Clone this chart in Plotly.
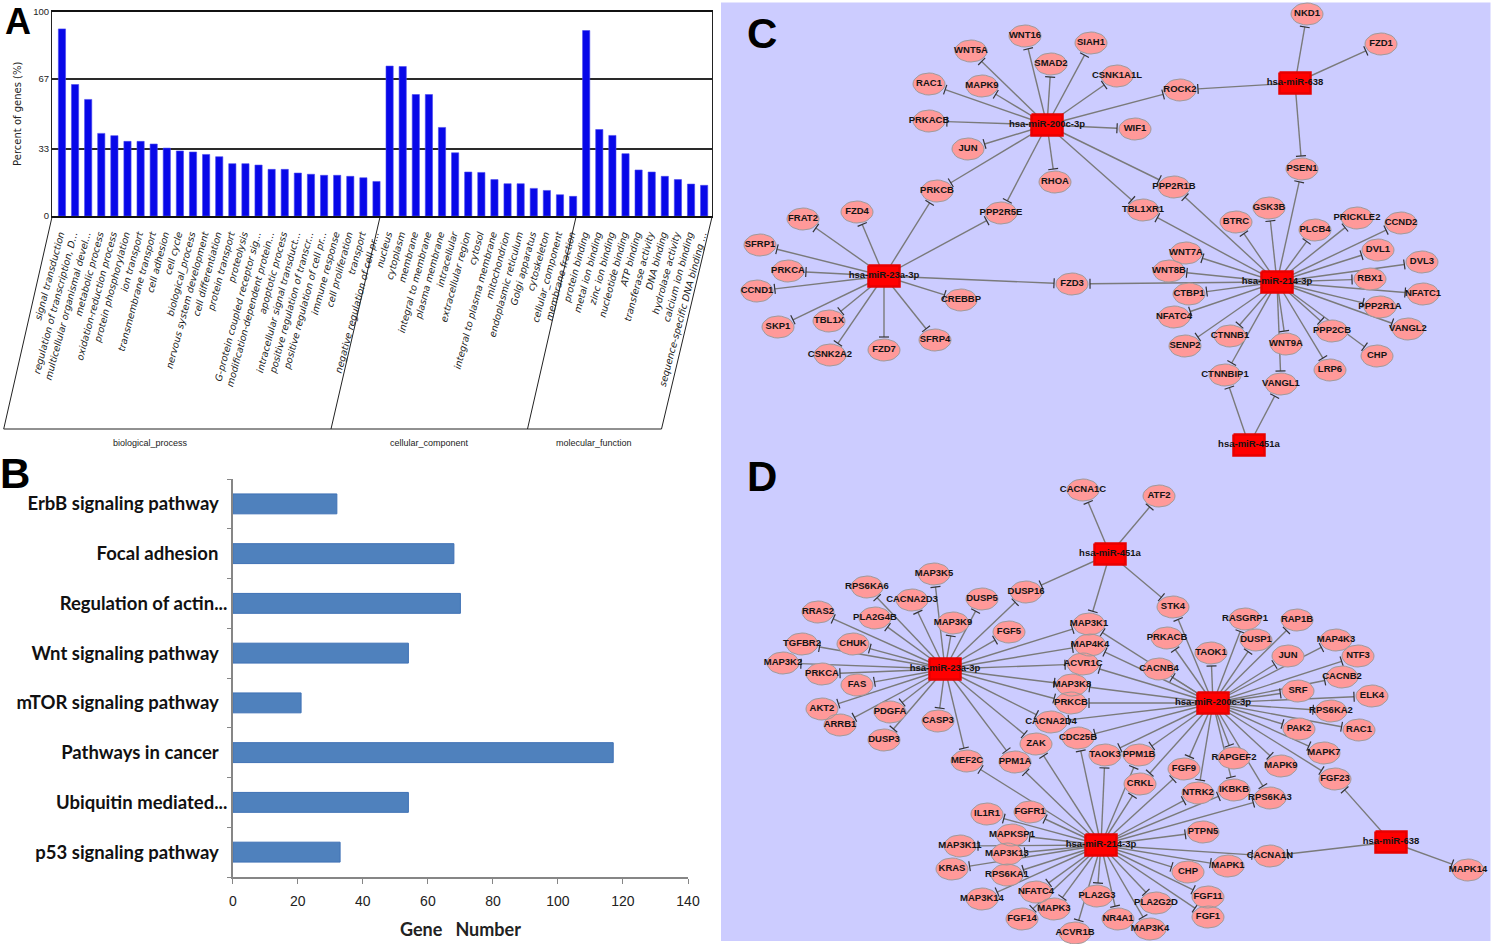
import math
import plotly.graph_objects as go

# ---------- Panel A ----------
GO_TERMS = ["signal transduction", "regulation of transcription, D...", "multicellular organismal devel...",
    "metabolic process", "oxidation-reduction process", "protein phosphorylation", "ion transport",
    "transmembrane transport", "cell adhesion", "cell cycle", "biological_process",
    "nervous system development", "cell differentiation", "protein transport", "proteolysis",
    "G-protein coupled receptor sig...", "modification-dependent protein...", "apoptotic process",
    "intracellular signal transduct...", "positive regulation of transcr...",
    "positive regulation of cell pr...", "immune response", "cell proliferation", "transport",
    "negative regulation of cell pr...",
    "nucleus", "cytoplasm", "membrane", "integral to membrane", "plasma membrane", "intracellular",
    "extracellular region", "cytosol", "integral to plasma membrane", "mitochondrion",
    "endoplasmic reticulum", "Golgi apparatus", "cytoskeleton", "cellular_component", "membrane fraction",
    "protein binding", "metal ion binding", "zinc ion binding", "nucleotide binding", "ATP binding",
    "transferase activity", "DNA binding", "hydrolase activity", "calcium ion binding",
    "sequence-specific DNA binding ..."]
GO_PERCENT = [91.5, 64.3, 57, 40.4, 39.3, 36.5, 36.5, 35.2, 33.2, 31.8, 31.3, 30.1, 29, 25.6, 25.6, 24.9,
    22.8, 22.8, 21, 20.4, 19.9, 19.9, 19.4, 18.7, 16.9,
    73.3, 73.1, 59.4, 59.4, 43.3, 30.9, 21.5, 21.3, 17.8, 15.8, 15.8, 13.5, 12.5, 10.4, 9.6,
    90.7, 42.3, 39.4, 30.5, 22.5, 21.5, 19.4, 17.8, 15.6, 15]
GO_TICKS = [0, 33, 67, 100]
GO_GROUPS = ["biological_process", "cellular_component", "molecular_function"]

# ---------- Panel B ----------
PATHWAYS = ["ErbB signaling pathway  ", "Focal adhesion  ", "Regulation of actin...", "Wnt signaling pathway  ",
    "mTOR signaling pathway  ", "Pathways in cancer  ", "Ubiquitin mediated...", "p53 signaling pathway  "]
GENE_NUMBER = [32, 68, 70, 54, 21, 117, 54, 33]
GENE_TICKS = [0, 20, 40, 60, 80, 100, 120, 140]

# ---------- Panel C network ----------
C_GENES = ["WNT16", "SIAH1", "SMAD2", "WNT5A", "RAC1", "MAPK9", "PRKACB", "JUN", "PRKCB", "RHOA", "PPP2R5E",
    "FRAT2", "FZD4", "CSNK1A1L", "ROCK2", "WIF1", "NKD1", "FZD1", "PSEN1", "PPP2R1B", "TBL1XR1", "GSK3B",
    "BTRC", "PLCB4", "PRICKLE2", "CCND2", "DVL1", "DVL3", "WNT7A", "WNT8B", "RBX1", "CTBP1", "NFATC1",
    "PPP2R1A", "NFATC4", "VANGL2", "PPP2CB", "CTNNB1", "WNT9A", "SENP2", "CHP", "LRP6", "CTNNBIP1", "VANGL1",
    "SFRP1", "PRKCA", "CCND1", "SKP1", "TBL1X", "CSNK2A2", "FZD7", "SFRP4", "CREBBP", "FZD3"]
C_GENE_X = [1025, 1091, 1051, 971, 929, 982, 929, 968, 937, 1055, 1001,
    803, 857, 1117, 1180, 1135, 1307, 1381, 1302, 1174, 1143, 1269,
    1236, 1315, 1357, 1401, 1378, 1422, 1186, 1169, 1370, 1189, 1423,
    1380, 1174, 1408, 1332, 1230, 1286, 1185, 1377, 1330, 1225, 1281,
    760, 788, 757, 778, 829, 830, 884, 935, 961, 1072]
C_GENE_Y = [36, 43, 64, 51, 84, 86, 121, 149, 191, 182, 213,
    219, 212, 76, 90, 129, 14, 44, 169, 187, 210, 208,
    222, 230, 218, 223, 250, 262, 253, 271, 279, 294, 294,
    307, 317, 329, 331, 336, 344, 346, 356, 370, 375, 384,
    245, 271, 291, 327, 321, 355, 350, 340, 300, 284]
C_MIRNAS = ["hsa-miR-200c-3p", "hsa-miR-638", "hsa-miR-23a-3p", "hsa-miR-214-3p", "hsa-miR-451a"]
C_MIRNA_X = [1047, 1295, 884, 1277, 1249]
C_MIRNA_Y = [125, 83, 276, 282, 445]
C_TARGETS = [
    ["WNT16", "SIAH1", "SMAD2", "WNT5A", "RAC1", "MAPK9", "PRKACB", "JUN", "PRKCB", "RHOA", "PPP2R5E",
     "CSNK1A1L", "ROCK2", "WIF1", "PPP2R1B", "TBL1XR1"],
    ["NKD1", "FZD1", "ROCK2", "PSEN1"],
    ["PRKCB", "PPP2R5E", "FRAT2", "FZD4", "SFRP1", "PRKCA", "CCND1", "SKP1", "TBL1X", "CSNK2A2", "FZD7",
     "SFRP4", "CREBBP", "FZD3"],
    ["PPP2R1B", "TBL1XR1", "GSK3B", "BTRC", "PLCB4", "PRICKLE2", "CCND2", "DVL1", "DVL3", "WNT7A", "WNT8B",
     "RBX1", "CTBP1", "NFATC1", "PPP2R1A", "NFATC4", "VANGL2", "PPP2CB", "CTNNB1", "WNT9A", "SENP2", "CHP",
     "LRP6", "CTNNBIP1", "VANGL1", "FZD3", "PSEN1"],
    ["CTNNBIP1", "VANGL1"],
]

# ---------- Panel D network ----------
D_GENES = ["CACNA1C", "ATF2", "MAP3K5", "RPS6KA6", "CACNA2D3", "DUSP5", "DUSP16", "RRAS2", "PLA2G4B", "MAP3K9",
    "FGF5", "MAP3K1", "TGFBR2", "CHUK", "MAP4K4", "MAP3K2", "ACVR1C", "PRKCA", "FAS", "MAP3K8", "PRKCB",
    "AKT2", "PDGFA", "ARRB1", "CASP3", "CACNA2D4", "DUSP3", "CDC25B", "ZAK", "MEF2C", "PPM1A", "TAOK3",
    "STK4", "RASGRP1", "RAP1B", "PRKACB", "DUSP1", "MAP4K3", "TAOK1", "JUN", "NTF3", "CACNB4", "CACNB2",
    "SRF", "ELK4", "RPS6KA2", "PAK2", "RAC1", "MAPK7", "PPM1B", "RAPGEF2", "MAPK9", "FGF9", "FGF23", "CRKL",
    "IKBKB", "NTRK2", "RPS6KA3", "PTPN5", "CACNA1N", "MAPK1", "CHP", "MAPK14", "FGF11", "PLA2G2D", "FGF1",
    "NR4A1", "MAP3K4", "PLA2G3", "IL1R1", "FGFR1", "MAPKSP1", "MAP3K11", "MAP3K13", "KRAS", "RPS6KA1",
    "NFATC4", "MAP3K14", "MAPK3", "FGF14", "ACVR1B"]
D_GENE_X = [1083, 1159, 934, 867, 912, 982, 1026, 818, 875, 953,
    1009, 1089, 802, 853, 1090, 783, 1083, 822, 857, 1072, 1071,
    822, 890, 840, 938, 1051, 884, 1078, 1036, 967, 1015, 1105,
    1173, 1245, 1297, 1167, 1256, 1336, 1211, 1288, 1358, 1159, 1342,
    1298, 1372, 1331, 1299, 1359, 1324, 1139, 1234, 1281, 1184, 1335, 1140,
    1234, 1198, 1270, 1203, 1270, 1228, 1188, 1468, 1208, 1156, 1208,
    1118, 1150, 1097, 987, 1030, 1012, 960, 1007, 952, 1007,
    1036, 982, 1054, 1022, 1075]
D_GENE_Y = [490, 496, 574, 587, 600, 599, 592, 612, 618, 623,
    632, 624, 644, 644, 645, 663, 664, 674, 685, 685, 703,
    709, 712, 725, 721, 722, 740, 738, 744, 761, 762, 755,
    607, 619, 620, 638, 640, 640, 653, 656, 656, 669, 677,
    691, 696, 711, 729, 730, 753, 755, 758, 766, 769, 779, 784,
    790, 793, 798, 832, 856, 866, 872, 870, 897, 903, 917,
    919, 929, 896, 814, 812, 835, 846, 854, 869, 875,
    892, 899, 909, 919, 933]
D_MIRNAS = ["hsa-miR-451a", "hsa-miR-23a-3p", "hsa-miR-200c-3p", "hsa-miR-214-3p", "hsa-miR-638"]
D_MIRNA_X = [1110, 945, 1213, 1101, 1391]
D_MIRNA_Y = [554, 669, 703, 845, 842]
D_TARGETS = [
    ["CACNA1C", "ATF2", "DUSP16", "MAP3K1", "STK4"],
    ["MAP3K5", "RPS6KA6", "CACNA2D3", "DUSP5", "DUSP16", "RRAS2", "PLA2G4B", "MAP3K9", "FGF5", "MAP3K1",
     "TGFBR2", "CHUK", "MAP4K4", "MAP3K2", "ACVR1C", "PRKCA", "FAS", "MAP3K8", "PRKCB", "AKT2", "PDGFA",
     "ARRB1", "CASP3", "CACNA2D4", "DUSP3", "ZAK", "MEF2C", "PPM1A"],
    ["STK4", "RASGRP1", "RAP1B", "PRKACB", "DUSP1", "MAP4K3", "TAOK1", "JUN", "NTF3", "CACNB4", "CACNB2", "SRF",
     "ELK4", "RPS6KA2", "PAK2", "RAC1", "MAPK7", "PPM1B", "RAPGEF2", "MAPK9", "FGF9", "FGF23", "CRKL", "IKBKB",
     "NTRK2", "RPS6KA3", "TAOK3", "MAP3K1", "MAP4K4", "ACVR1C", "MAP3K8", "PRKCB", "CACNA2D4", "CDC25B"],
    ["MEF2C", "PPM1A", "ZAK", "CDC25B", "TAOK3", "PPM1B", "CRKL", "FGF9", "NTRK2", "IKBKB", "RPS6KA3", "PTPN5",
     "CACNA1N", "MAPK1", "CHP", "FGF11", "FGF1", "PLA2G2D", "MAP3K4", "NR4A1", "PLA2G3", "ACVR1B", "MAPK3",
     "FGF14", "NFATC4", "MAP3K14", "RPS6KA1", "KRAS", "MAP3K13", "MAP3K11", "MAPKSP1", "IL1R1", "FGFR1"],
    ["FGF23", "CACNA1N", "MAPK14"],
]

W, H = 1493, 944
EA, EB = 16.0, 11.0
SW, SH = 15.5, 10.5


def dom_x(a, b):
    return [a / W, b / W]


def dom_y(top, bottom):
    return [1 - bottom / H, 1 - top / H]


fig = go.Figure()

# Panel A bars
fig.add_trace(go.Bar(x=GO_TERMS, y=GO_PERCENT, xaxis="x", yaxis="y", width=0.55,
                     marker=dict(color="#0808E8", line=dict(color="#4A4AF0", width=0.6)), showlegend=False))
# Panel B bars
fig.add_trace(go.Bar(y=PATHWAYS, x=GENE_NUMBER, orientation="h", xaxis="x2", yaxis="y2", width=0.4,
                     marker=dict(color="#4F81BD", line=dict(color="#3F71B5", width=1)), showlegend=False))

# Networks (overlay axes x3/y3 measured in figure pixels)
edge_x, edge_y, bar_x, bar_y, ell_x, ell_y, sq_x, sq_y, lab_x, lab_y, lab_t = [], [], [], [], [], [], [], [], [], [], []


def add_network(genes, gx, gy, mirnas, mx, my, targets):
    pos = {g: (x, y) for g, x, y in zip(genes, gx, gy)}
    for m, x0, y0, tlist in zip(mirnas, mx, my, targets):
        for t in tlist:
            x1, y1 = pos[t]
            dx, dy = x0 - x1, y0 - y1
            d = math.hypot(dx, dy)
            ux, uy = dx / d, dy / d
            r = 1 / math.sqrt((ux / EA) ** 2 + (uy / EB) ** 2) + 2
            ex, ey = x1 + ux * r, y1 + uy * r
            edge_x.extend([x0, ex, None])
            edge_y.extend([y0, ey, None])
            bar_x.extend([ex - uy * 5, ex + uy * 5, None])
            bar_y.extend([ey + ux * 5, ey - ux * 5, None])
    for g, x, y in zip(genes, gx, gy):
        for k in range(29):
            a = 2 * math.pi * k / 28
            ell_x.append(x + EA * math.cos(a))
            ell_y.append(y + EB * math.sin(a))
        ell_x.append(None)
        ell_y.append(None)
        lab_x.append(x)
        lab_y.append(y)
        lab_t.append(g)
    for m, x, y in zip(mirnas, mx, my):
        sq_x.extend([x - SW, x + SW, x + SW, x - SW, x - SW, None])
        sq_y.extend([y - SH, y - SH, y + SH, y + SH, y - SH, None])
        lab_x.append(x)
        lab_y.append(y)
        lab_t.append(m)


add_network(C_GENES, C_GENE_X, C_GENE_Y, C_MIRNAS, C_MIRNA_X, C_MIRNA_Y, C_TARGETS)
add_network(D_GENES, D_GENE_X, D_GENE_Y, D_MIRNAS, D_MIRNA_X, D_MIRNA_Y, D_TARGETS)

ov = dict(xaxis="x3", yaxis="y3", hoverinfo="skip", showlegend=False)
fig.add_trace(go.Scatter(x=edge_x, y=edge_y, mode="lines", line=dict(color="#7A7A7A", width=1.4), **ov))
fig.add_trace(go.Scatter(x=bar_x, y=bar_y, mode="lines", line=dict(color="#333333", width=1.2), **ov))
fig.add_trace(go.Scatter(x=ell_x, y=ell_y, mode="lines", fill="toself", fillcolor="#FF9999",
                         line=dict(color="#A09A9A", width=1), **ov))
fig.add_trace(go.Scatter(x=sq_x, y=sq_y, mode="lines", fill="toself", fillcolor="#FF0000",
                         line=dict(color="#E80000", width=2.5), **ov))
fig.add_trace(go.Scatter(x=lab_x, y=lab_y, mode="text", text=lab_t, textposition="middle center",
                         textfont=dict(family="Liberation Sans", size=9.5, color="#141414", weight="bold"), **ov))

# Category brackets of panel A
BRACKET_TOP = [52, 380, 576, 712]
BRACKET_BOTTOM = [3.7, 331, 527.5, 661.5]
for t, b in zip(BRACKET_TOP, BRACKET_BOTTOM):
    fig.add_shape(type="line", xref="x3", yref="y3", x0=t, y0=217, x1=b, y1=429,
                  line=dict(color="#222222", width=1))
fig.add_shape(type="line", xref="x3", yref="y3", x0=3.7, y0=429, x1=661.5, y1=429,
              line=dict(color="#222222", width=1))
# Lavender background of C and D
fig.add_shape(type="rect", xref="x3", yref="y3", x0=721, y0=2.5, x1=1490.5, y1=941, layer="below",
              fillcolor="#CCCCFF", line=dict(width=0))

annotations = []
for txt, x in zip(GO_GROUPS, [150, 429, 594]):
    annotations.append(dict(text=txt, x=x, y=443, xref="x3", yref="y3", showarrow=False,
                            font=dict(family="Liberation Sans", size=9, color="#222222")))
for txt, x, y, s in [("A", 18, 21.5, 36), ("B", 15, 473, 42), ("C", 762, 33, 42), ("D", 762, 476, 42)]:
    annotations.append(dict(text=txt, x=x, y=y, xref="x3", yref="y3", showarrow=False,
                            font=dict(family="Liberation Sans", size=s, color="#000000", weight="bold")))

fig.update_layout(
    width=W, height=H, margin=dict(l=0, r=0, t=0, b=0), autosize=False,
    paper_bgcolor="white", plot_bgcolor="rgba(0,0,0,0)", showlegend=False,
    annotations=annotations,
    xaxis=dict(domain=dom_x(52, 712), anchor="y", type="category", range=[-0.76, 49.6], automargin=False,
               tickmode="array", tickvals=GO_TERMS, ticktext=GO_TERMS, tickangle=-75, ticks="",
               ticklabelstandoff=7, showgrid=False, ticklabelshift=-2,
               tickfont=dict(family="DejaVu Sans", size=9.5, style="italic", color="#222222"),
               showline=True, linecolor="#111111", linewidth=2, mirror=True),
    yaxis=dict(domain=dom_y(11.5, 216), anchor="x", range=[0, 100], tickvals=GO_TICKS, ticks="", automargin=False,
               tickfont=dict(family="Liberation Sans", size=9.5, color="#222222"),
               showgrid=True, gridcolor="#2A2A2A", gridwidth=2, zeroline=False,
               showline=True, linecolor="#222222", linewidth=1, mirror=True,
               title=dict(text="Percent of genes (%)", standoff=9,
                          font=dict(family="DejaVu Sans", size=10, color="#222222"))),
    xaxis2=dict(domain=dom_x(232.8, 688), anchor="y2", range=[0, 140], tickvals=GENE_TICKS, ticks="outside",
                ticklen=5, tickcolor="#868686", showgrid=False, zeroline=False, automargin=False,
                showline=True, linecolor="#868686", linewidth=1.5, ticklabelstandoff=5,
                tickfont=dict(family="Liberation Sans", size=14, color="#222222"),
                title=dict(text="Gene   Number", standoff=16,
                           font=dict(family="Lato", size=18, color="#222222", weight="bold"))),
    yaxis2=dict(domain=dom_y(479, 877), anchor="x2", type="category", range=[7.5, -0.5], automargin=False,
                tickmode="array", tickvals=PATHWAYS, ticktext=PATHWAYS, tickson="boundaries",
                ticks="outside", ticklen=4, tickcolor="#868686", showgrid=False,
                showline=True, linecolor="#868686", linewidth=1.5,
                tickfont=dict(family="Lato", size=18.5, color="#111111", weight="bold")),
    xaxis3=dict(domain=[0, 1], anchor="y3", range=[0, W], visible=False, fixedrange=True, automargin=False),
    yaxis3=dict(domain=[0, 1], anchor="x3", range=[H, 0], visible=False, fixedrange=True, automargin=False),
)

fig.write_html("out.html", config={"displayModeBar": False},
               post_script="document.body.style.margin='0';document.body.style.overflow='hidden';")
